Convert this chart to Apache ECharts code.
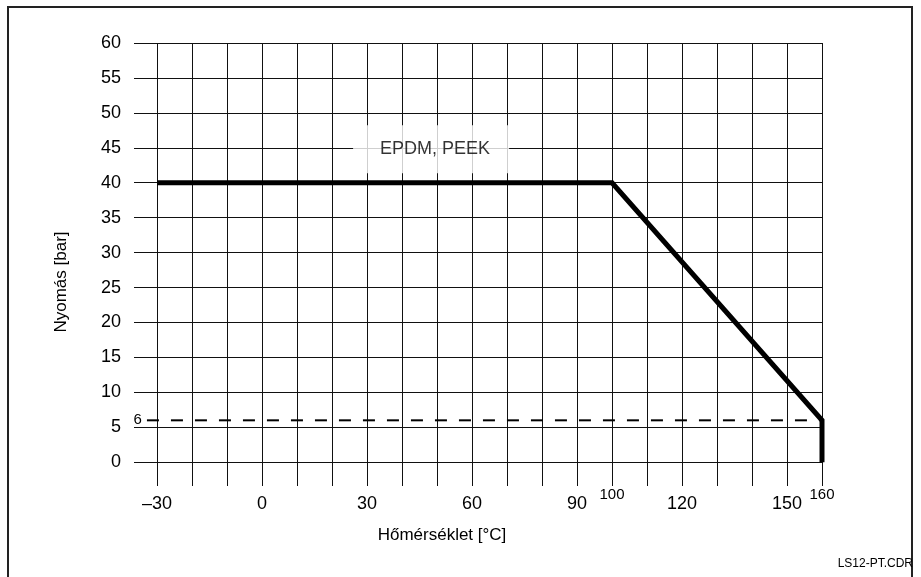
<!DOCTYPE html>
<html>
<head>
<meta charset="utf-8">
<script src="https://cdn.jsdelivr.net/npm/echarts@6/dist/echarts.min.js"></script>
<style>html,body{margin:0;padding:0;background:#fff}#c{width:921px;height:577px}</style>
</head>
<body>
<div id="c"></div>
<script>
// ---- data ----
var curveTemp = [-30, 100, 160, 160];
var curvePress = [40, 40, 6, 0];
var curveName = 'EPDM, PEEK';
var limitTemp = [-32.9, 160];
var limitPress = [6, 6];
var limitLabel = '6';
var xTickMain = [-30, 0, 30, 60, 90, 120, 150];
var xTickSmall = [100, 160];
var yTicks = [0, 5, 10, 15, 20, 25, 30, 35, 40, 45, 50, 55, 60];
var vGrid = [-30, -20, -10, 0, 10, 20, 30, 40, 50, 60, 70, 80, 90, 100, 110, 120, 130, 140, 150, 160];
var hGrid = [0, 5, 10, 15, 20, 25, 30, 35, 40, 45, 50, 55, 60];
var labelPos = [48.3, 44.8];
var xTitle = 'Hőmérséklet [°C]';
var yTitle = 'Nyomás [bar]';
var fileTag = 'LS12-PT.CDR';

var xMin = -36.6, xMax = 160, yMin = -3.4, yMax = 60;
var FONT = '"Liberation Sans", Arial, sans-serif';

function pairs(xs, ys) { return xs.map(function (x, i) { return [x, ys[i]]; }); }
var gridLines = [];
vGrid.forEach(function (x) { gridLines.push({ coords: [[x, yMin], [x, yMax]] }); });
hGrid.forEach(function (y) { gridLines.push({ coords: [[xMin, y], [xMax, y]] }); });

var limitData = pairs(limitTemp, limitPress).map(function (p, i) {
  return i === 0 ? { value: p, label: { show: true, position: 'left', distance: 5, formatter: limitLabel, fontSize: 15, color: '#000', fontFamily: FONT } } : { value: p };
});

var chart = echarts.init(document.getElementById('c'), null, { renderer: 'canvas' });
chart.setOption({
  animation: false,
  backgroundColor: '#fff',
  grid: { left: 134, right: 99, top: 43, bottom: 91 },
  xAxis: [{
    type: 'value', min: xMin, max: xMax,
    axisLine: { show: false }, axisTick: { show: false }, splitLine: { show: false },
    axisLabel: {
      customValues: xTickMain, fontSize: 18, color: '#000', fontFamily: FONT, margin: 9,
      formatter: function (v) { return String(v).replace('-', '\u2013'); }
    },
    name: xTitle, nameLocation: 'middle', nameGap: 41,
    nameTextStyle: { fontSize: 17, color: '#000', fontFamily: FONT, padding: [0, 72, 0, 0] }
  }, {
    type: 'value', min: xMin, max: xMax, position: 'bottom',
    axisLine: { show: false }, axisTick: { show: false }, splitLine: { show: false },
    axisLabel: { customValues: xTickSmall, fontSize: 15, color: '#000', fontFamily: FONT, margin: 1 }
  }],
  yAxis: [{
    type: 'value', min: yMin, max: yMax,
    axisLine: { show: false }, axisTick: { show: false }, splitLine: { show: false },
    axisLabel: { customValues: yTicks, fontSize: 18, color: '#000', fontFamily: FONT, margin: 13 },
    name: yTitle, nameLocation: 'middle', nameGap: 64,
    nameTextStyle: { fontSize: 17, color: '#000', fontFamily: FONT, padding: [0, 35, 0, 0] }
  }],
  series: [{
    type: 'lines', coordinateSystem: 'cartesian2d', polyline: false, silent: true, z: 1,
    lineStyle: { color: '#111', width: 1, opacity: 1 },
    data: gridLines
  }, {
    type: 'line', z: 3, silent: true,
    symbol: 'circle', symbolSize: 0, showSymbol: true,
    lineStyle: { color: '#000', width: 2, type: [12, 12] },
    data: limitData
  }, {
    type: 'line', z: 4, silent: true, showSymbol: false, symbol: 'none',
    lineStyle: { color: '#000', width: 5, cap: 'butt', join: 'miter' },
    data: pairs(curveTemp, curvePress)
  }, {
    type: 'scatter', z: 5, silent: true, symbolSize: 0,
    itemStyle: { color: '#000' },
    label: {
      show: true, position: 'inside', formatter: curveName, fontSize: 18, color: '#000', fontFamily: FONT,
      textBorderWidth: 0, textShadowBlur: 0,
      backgroundColor: '#fff', padding: [15, 19, 15, 27]
    },
    data: [labelPos]
  }],
  graphic: [{
    type: 'rect', z: 0, silent: true,
    shape: { x: 8, y: 7, width: 904, height: 620 },
    style: { fill: 'none', stroke: '#222', lineWidth: 2 }
  }, {
    type: 'text', z: 10, silent: true,
    style: { x: 913, y: 564, text: fileTag, textAlign: 'right', textVerticalAlign: 'middle', fontSize: 12, fill: '#000', fontFamily: FONT }
  }]
});
</script>
</body>
</html>
